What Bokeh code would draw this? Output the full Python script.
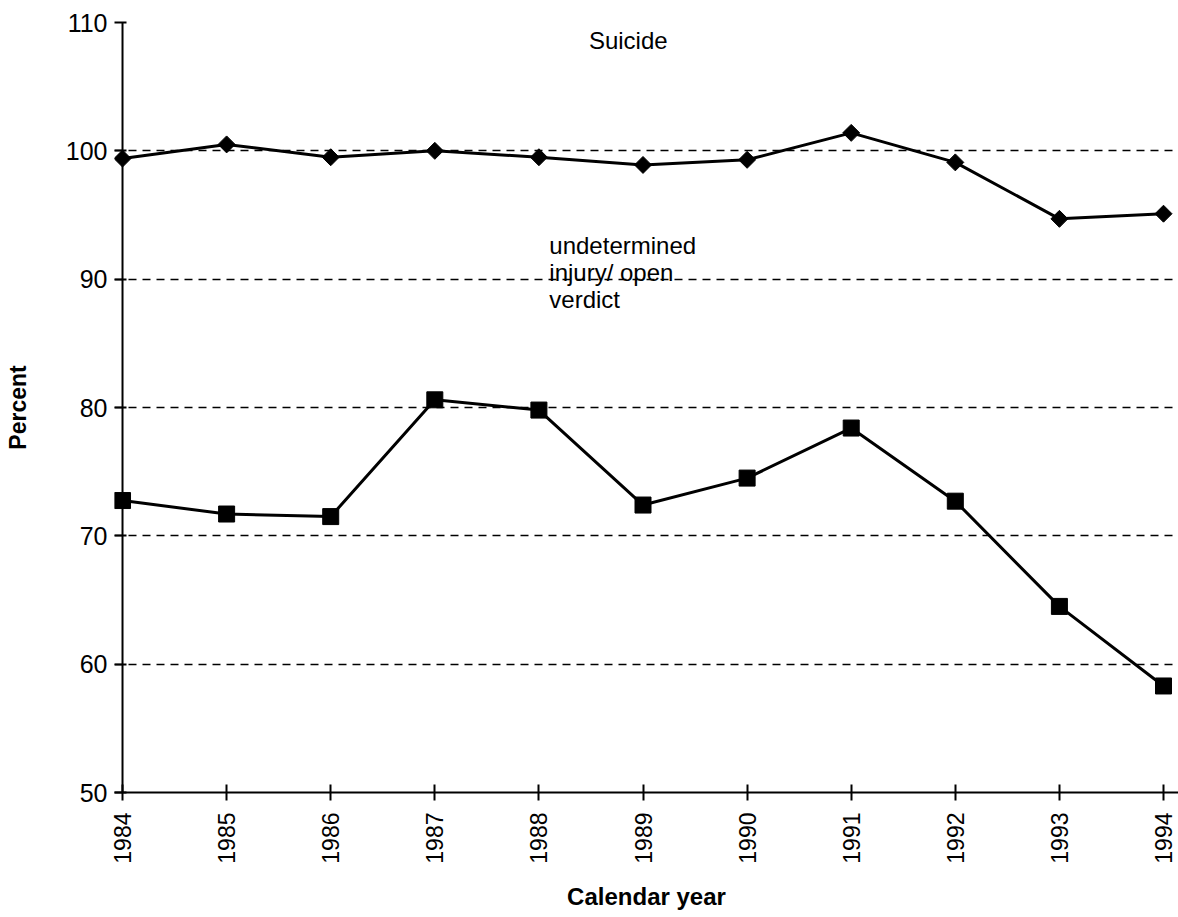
import math
from bokeh.plotting import figure
from bokeh.models import ColumnDataSource, Range1d, FixedTicker, Label, Span
from bokeh.embed import file_html
from bokeh.resources import INLINE

years = [1984, 1985, 1986, 1987, 1988, 1989, 1990, 1991, 1992, 1993, 1994]
suicide = [99.4, 100.5, 99.5, 100.0, 99.5, 98.9, 99.3, 101.4, 99.1, 94.7, 95.1]
undetermined = [72.75, 71.7, 71.5, 80.6, 79.8, 72.4, 74.5, 78.4, 72.7, 64.5, 58.3]
y_ticks = [50, 60, 70, 80, 90, 100, 110]

FONT = "Liberation Sans"

p = figure(width=1178, height=912, output_backend="svg", toolbar_location=None,
           x_range=Range1d(1983.923, 1994.144), y_range=Range1d(50, 110),
           min_border_left=114, min_border_right=0, min_border_top=22,
           min_border_bottom=117)
p.outline_line_color = None
p.background_fill_color = "white"

src_s = ColumnDataSource(dict(x=years, y=suicide))
src_u = ColumnDataSource(dict(x=years, y=undetermined))

p.line("x", "y", source=src_s, line_color="black", line_width=3)
p.scatter("x", "y", source=src_s, marker="square", angle=math.pi / 4, size=12,
          fill_color="black", line_color="black", line_width=1)
p.line("x", "y", source=src_u, line_color="black", line_width=3)
p.scatter("x", "y", source=src_u, marker="square", size=16, fill_color="black", line_color="black")

# axes
p.xaxis.ticker = FixedTicker(ticks=years)
p.yaxis.ticker = FixedTicker(ticks=y_ticks)
for ax in (p.xaxis, p.yaxis):
    ax.axis_line_color = "black"
    ax.axis_line_width = 2
    ax.major_tick_line_color = "black"
    ax.major_tick_line_width = 2
    ax.minor_tick_line_color = None
    ax.major_label_text_font = FONT
    ax.major_label_text_font_size = "25px"
    ax.major_label_text_color = "black"
    ax.axis_label_text_font = FONT
    ax.axis_label_text_font_style = "bold"
    ax.axis_label_text_color = "black"

p.xaxis.major_tick_in = 8
p.xaxis.major_tick_out = 8
p.xaxis.major_label_orientation = math.pi / 2
p.xaxis.major_label_text_font_size = "23px"
p.xaxis.major_label_standoff = 12
p.xaxis.axis_label = "Calendar year"
p.xaxis.axis_label_text_font_size = "24px"
p.xaxis.axis_label_standoff = 16

# y axis line sits at the first year; ticks cross it
p.yaxis.axis_line_color = None
p.yaxis.major_tick_in = 12
p.yaxis.major_tick_out = 0
p.yaxis.major_label_standoff = 7
p.yaxis.axis_label = "Percent"
p.yaxis.axis_label_text_font_size = "23px"
p.yaxis.axis_label_standoff = 32
p.add_layout(Span(location=years[0], dimension="height", line_color="black", line_width=2))

p.xgrid.grid_line_color = None
p.ygrid.grid_line_color = "black"
p.ygrid.grid_line_width = 1.3
p.ygrid.grid_line_dash = "8 6"

p.add_layout(Label(x=1988.48, y=108.6, text="Suicide", text_font=FONT,
                   text_font_size="24px", text_baseline="middle", text_color="black"))
for t, yy in [("undetermined", 92.65), ("injury/ open", 90.55), ("verdict", 88.45)]:
    p.add_layout(Label(x=1988.1, y=yy, text=t, text_font=FONT,
                       text_font_size="24px", text_baseline="middle", text_color="black"))

open("out.html", "w").write(file_html(p, INLINE))
